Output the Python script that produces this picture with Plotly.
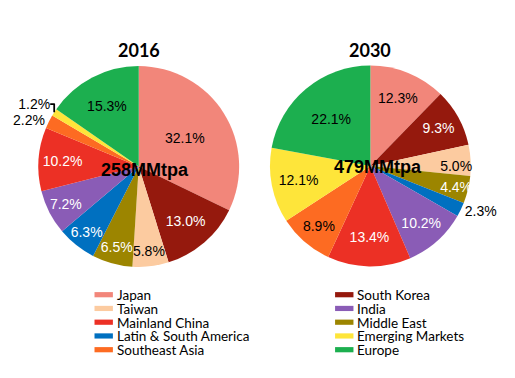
import plotly.graph_objects as go

regions = ["Japan", "South Korea", "Taiwan", "Middle East", "Latin & South America",
           "India", "Mainland China", "Southeast Asia", "Emerging Markets", "Europe"]
share_2016 = [32.1, 13.0, 5.8, 6.5, 6.3, 7.2, 10.2, 2.2, 1.2, 15.3]
share_2030 = [12.3, 9.3, 5.0, 4.4, 2.3, 10.2, 13.4, 8.9, 12.1, 22.1]
totals = ["258MMtpa", "479MMtpa"]
years = ["2016", "2030"]
legend_order = ["Japan", "South Korea", "Taiwan", "India", "Mainland China", "Middle East",
                "Latin & South America", "Emerging Markets", "Southeast Asia", "Europe"]

colors = {
    "Japan": "#F2867A", "South Korea": "#95190D", "Taiwan": "#FCCBA0",
    "Middle East": "#9C8500", "Latin & South America": "#0070C0", "India": "#8A5CB6",
    "Mainland China": "#EC3025", "Southeast Asia": "#FD6B22", "Emerging Markets": "#FEE53A",
    "Europe": "#1CAF4F",
}
dark_text = {"Japan", "Taiwan", "Southeast Asia", "Emerging Markets", "Europe"}

# page body has an 8px margin; figure occupies the remaining visible area
OFF = 8
W, H = 515 - OFF, 378 - OFF


def px(x):
    return (x - OFF) / W


def py(y):
    return 1 - (y - OFF) / H


fig = go.Figure()

pies = [
    dict(vals=share_2016, cx=136.5, cy=166.5, outside={"Southeast Asia", "Emerging Markets"}),
    dict(vals=share_2030, cx=369.5, cy=166.0, outside={"Latin & South America"}),
]
R = 101
for p in pies:
    fig.add_trace(go.Pie(
        labels=regions, values=p["vals"], sort=False, direction="clockwise", rotation=0,
        marker=dict(colors=[colors[r] for r in regions], line=dict(width=0)),
        texttemplate="%{value:.1f}%",
        textposition=["outside" if r in p["outside"] else "inside" for r in regions],
        insidetextorientation="horizontal",
        insidetextfont=dict(family="Liberation Sans, Arial", size=14,
                            color=["#000000" if r in dark_text else "#FFFFFF" for r in regions]),
        outsidetextfont=dict(family="Liberation Sans, Arial", size=14, color="#000000"),
        showlegend=False, hoverinfo="label+value",
        domain=dict(x=[px(p["cx"] - R), px(p["cx"] + R)],
                    y=[py(p["cy"] + R), py(p["cy"] - R)]),
    ))

annotations = []
for p, yr, tot, dx, dy in zip(pies, years, totals, [6, 7.5], [3.5, 1]):
    annotations.append(dict(x=px(p["cx"]), y=py(50), xref="paper", yref="paper",
                            xanchor="center", yanchor="middle",
                            text="<b>%s</b>" % yr, showarrow=False,
                            font=dict(family="Lato", size=18, color="#000000")))
    annotations.append(dict(x=px(p["cx"] + dx), y=py(p["cy"] + dy), xref="paper", yref="paper",
                            xanchor="center", yanchor="middle",
                            text="<b>%s</b>" % tot, showarrow=False,
                            font=dict(family="Liberation Sans, Arial", size=18, color="#000000")))

# custom two-column legend
shapes = []
col_x = [92, 334]
row_y0, row_dy = 294.7, 13.75
for i, name in enumerate(legend_order):
    col, row = i % 2, i // 2
    x0 = col_x[col]
    yc = row_y0 + row * row_dy
    shapes.append(dict(type="rect", xref="paper", yref="paper",
                       x0=px(x0), x1=px(x0 + 18.5),
                       y0=py(yc + 2.6), y1=py(yc - 2.6),
                       fillcolor=colors[name], line=dict(width=0)))
    annotations.append(dict(x=px(x0 + 20.5), y=py(yc + 0.5), xref="paper", yref="paper",
                            xanchor="left", yanchor="middle", text=name, showarrow=False,
                            font=dict(family="Lato", size=13.5, color="#000000")))

fig.update_layout(width=W, height=H, margin=dict(l=0, r=0, t=0, b=0),
                  paper_bgcolor="white", plot_bgcolor="white",
                  uniformtext=dict(minsize=14, mode="show"),
                  annotations=annotations, shapes=shapes)
fig.write_html("out.html")
